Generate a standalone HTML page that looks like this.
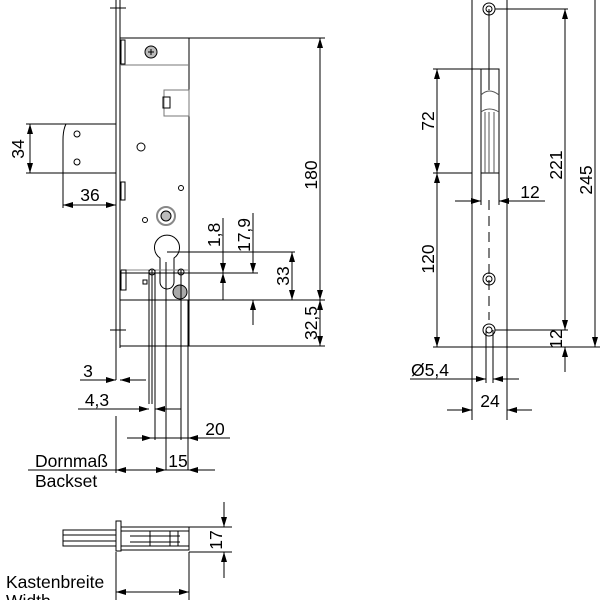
<!DOCTYPE html><html><head><style>body{margin:0;background:#fff}svg{display:block}text{font-family:"Liberation Sans",sans-serif;font-size:17.5px;fill:#000}</style></head><body>
<svg width="600" height="600" viewBox="0 0 600 600" xmlns="http://www.w3.org/2000/svg">
<defs><marker id="a" viewBox="0 0 10 6" refX="10" refY="3" markerWidth="10" markerHeight="6" orient="auto-start-reverse" markerUnits="userSpaceOnUse"><path d="M0,0L10,3L0,6z" fill="#000"/></marker></defs>
<g stroke="#000" stroke-width="1" fill="none">
<line x1="116" y1="0" x2="116" y2="380"/><line x1="120" y1="0" x2="120" y2="348"/>
<line x1="116" y1="416" x2="116" y2="473"/>
<line x1="110" y1="8" x2="126" y2="8"/><line x1="110" y1="330" x2="126" y2="330"/>
<rect x="120" y="38" width="69" height="308"/>
<line x1="120" y1="65" x2="189" y2="65" stroke="#777"/>
<line x1="189" y1="38" x2="325" y2="38"/><line x1="120" y1="300" x2="325" y2="300"/><line x1="189" y1="346" x2="325" y2="346"/>
<rect x="121" y="40" width="4" height="24"/>
<circle cx="151" cy="52" r="6" fill="#bbb"/><path d="M148 52h6M151 49v6"/>
<rect x="164" y="90" width="25" height="26" stroke="#777"/><rect x="163" y="97" width="7" height="11"/>
<path d="M116 124H66Q63 130 63 140V208"/><line x1="26" y1="124" x2="116" y2="124"/><line x1="26" y1="173" x2="116" y2="173"/>
<circle cx="77" cy="134" r="3"/><circle cx="77" cy="162" r="3"/>
<rect x="121" y="182" width="4" height="18"/>
<circle cx="141" cy="147" r="4"/><circle cx="181" cy="188" r="2.5"/><circle cx="145" cy="220" r="2.5"/>
<circle cx="166" cy="216" r="9" stroke="#888" stroke-width="2"/><circle cx="166" cy="216" r="5" fill="#bbb"/>
<path d="M160 258A12.5 12.5 0 1 1 174 258V282A7 7 0 0 1 160 282Z"/>
<line x1="167" y1="252" x2="295" y2="252"/><line x1="120" y1="270" x2="188" y2="270" stroke="#888"/>
<line x1="120" y1="273" x2="258" y2="273"/>
<circle cx="152" cy="272" r="3"/><circle cx="181" cy="272" r="3"/>
<rect x="121" y="270" width="5" height="20"/><rect x="143" y="280" width="4" height="4"/>
<circle cx="180" cy="292" r="7" fill="#aaa"/>
<line x1="149" y1="270" x2="149" y2="404"/><line x1="152" y1="270" x2="152" y2="404"/><line x1="155" y1="270" x2="155" y2="440"/>
<line x1="166" y1="262" x2="166" y2="470"/><line x1="181" y1="270" x2="181" y2="440"/><line x1="188" y1="300" x2="188" y2="470"/>
<line x1="30" y1="124" x2="30" y2="173" marker-start="url(#a)" marker-end="url(#a)"/>
<line x1="63" y1="205" x2="116" y2="205" marker-start="url(#a)" marker-end="url(#a)"/>
<line x1="320" y1="38" x2="320" y2="300" marker-start="url(#a)" marker-end="url(#a)"/>
<line x1="320" y1="300" x2="320" y2="346" marker-start="url(#a)" marker-end="url(#a)"/>
<line x1="223" y1="218" x2="223" y2="273" marker-end="url(#a)"/><line x1="223" y1="300" x2="223" y2="273" marker-end="url(#a)"/>
<line x1="253" y1="213" x2="253" y2="273" marker-end="url(#a)"/><line x1="253" y1="325" x2="253" y2="300" marker-end="url(#a)"/>
<line x1="292" y1="252" x2="292" y2="300" marker-start="url(#a)" marker-end="url(#a)"/>
<line x1="80" y1="380" x2="116" y2="380" marker-end="url(#a)"/><line x1="146" y1="380" x2="120" y2="380" marker-end="url(#a)"/>
<line x1="78" y1="409" x2="149" y2="409" marker-end="url(#a)"/><line x1="181" y1="409" x2="155" y2="409" marker-end="url(#a)"/>
<line x1="127" y1="438" x2="230" y2="438"/><line x1="152" y1="438" x2="128" y2="438" marker-start="url(#a)"/><line x1="188" y1="438" x2="200" y2="438" marker-start="url(#a)"/>
<line x1="28" y1="470" x2="215" y2="470"/><line x1="140" y1="470" x2="116" y2="470" marker-end="url(#a)"/><line x1="140" y1="470" x2="166" y2="470" marker-end="url(#a)"/><line x1="205" y1="470" x2="188" y2="470" marker-end="url(#a)"/>
<rect x="116" y="521" width="5" height="30"/>
<rect x="63" y="530" width="53" height="16"/><path d="M63 535h53M63 541h53"/>
<rect x="121" y="527" width="68" height="23"/><path d="M121 531h68M121 546h68M130 536h50M130 542h50M150 531v15M170 531v15M178 531v15"/>
<line x1="116" y1="552" x2="116" y2="600"/><line x1="189" y1="552" x2="189" y2="600"/>
<line x1="116" y1="592" x2="189" y2="592" marker-start="url(#a)" marker-end="url(#a)"/>
<line x1="189" y1="527" x2="232" y2="527"/><line x1="189" y1="552" x2="232" y2="552"/>
<line x1="224" y1="502" x2="224" y2="527" marker-end="url(#a)"/><line x1="224" y1="578" x2="224" y2="552" marker-end="url(#a)"/>
<line x1="472" y1="0" x2="472" y2="420"/><line x1="507" y1="0" x2="507" y2="420"/>
<line x1="489" y1="9" x2="489" y2="90"/><line x1="489" y1="200" x2="489" y2="320" stroke-dasharray="10,6"/>
<circle cx="489" cy="9" r="6"/><circle cx="489" cy="9" r="3"/>
<circle cx="489" cy="279" r="6"/><circle cx="489" cy="279" r="3"/>
<circle cx="489" cy="330" r="6"/><circle cx="489" cy="330" r="3"/>
<rect x="481" y="69" width="18" height="104"/><path d="M481 95q8-8 18 0M481 112q8-6 18 0M485 112v61M489 112v61M494 112v61" stroke="#555"/>
<line x1="433" y1="69" x2="481" y2="69"/><line x1="433" y1="173" x2="472" y2="173"/><line x1="433" y1="347" x2="600" y2="347"/>
<line x1="437" y1="69" x2="437" y2="173" marker-start="url(#a)" marker-end="url(#a)"/>
<line x1="437" y1="173" x2="437" y2="347" marker-start="url(#a)" marker-end="url(#a)"/>
<line x1="481" y1="173" x2="481" y2="205"/><line x1="499" y1="173" x2="499" y2="205"/>
<line x1="455" y1="201" x2="481" y2="201" marker-end="url(#a)"/><line x1="545" y1="201" x2="499" y2="201" marker-end="url(#a)"/>
<line x1="495" y1="9" x2="568" y2="9"/><line x1="495" y1="330" x2="568" y2="330"/>
<line x1="565" y1="9" x2="565" y2="330" marker-start="url(#a)" marker-end="url(#a)"/>
<line x1="565" y1="372" x2="565" y2="347" marker-end="url(#a)"/>
<line x1="595" y1="0" x2="595" y2="347" marker-end="url(#a)"/>
<line x1="486" y1="330" x2="486" y2="383"/><line x1="493" y1="330" x2="493" y2="383"/>
<line x1="410" y1="379" x2="486" y2="379" marker-end="url(#a)"/><line x1="519" y1="379" x2="493" y2="379" marker-end="url(#a)"/>
<line x1="447" y1="410" x2="472" y2="410" marker-end="url(#a)"/><line x1="532" y1="410" x2="507" y2="410" marker-end="url(#a)"/>
</g>
<text transform="translate(24,149) rotate(-90)" text-anchor="middle">34</text>
<text x="90" y="201" text-anchor="middle">36</text>
<text transform="translate(317,175) rotate(-90)" text-anchor="middle">180</text>
<text transform="translate(317,323) rotate(-90)" text-anchor="middle">32,5</text>
<text transform="translate(220,235) rotate(-90)" text-anchor="middle">1,8</text>
<text transform="translate(250,235) rotate(-90)" text-anchor="middle">17,9</text>
<text transform="translate(289,276) rotate(-90)" text-anchor="middle">33</text>
<text x="88" y="377" text-anchor="middle">3</text>
<text x="97" y="406" text-anchor="middle">4,3</text>
<text x="215" y="435" text-anchor="middle">20</text>
<text x="178" y="467" text-anchor="middle">15</text>
<text x="35" y="467">Dornmaß</text>
<text x="35" y="487">Backset</text>
<text transform="translate(222,540) rotate(-90)" text-anchor="middle">17</text>
<text x="6" y="588">Kastenbreite</text>
<text x="6" y="607">Width</text>
<text transform="translate(434,121) rotate(-90)" text-anchor="middle">72</text>
<text transform="translate(434,259) rotate(-90)" text-anchor="middle">120</text>
<text x="530" y="198" text-anchor="middle">12</text>
<text transform="translate(562,165) rotate(-90)" text-anchor="middle">221</text>
<text transform="translate(562,339) rotate(-90)" text-anchor="middle">12</text>
<text transform="translate(592,180) rotate(-90)" text-anchor="middle">245</text>
<text x="411" y="376">Ø5,4</text>
<text x="490" y="407" text-anchor="middle">24</text>
</svg></body></html>
